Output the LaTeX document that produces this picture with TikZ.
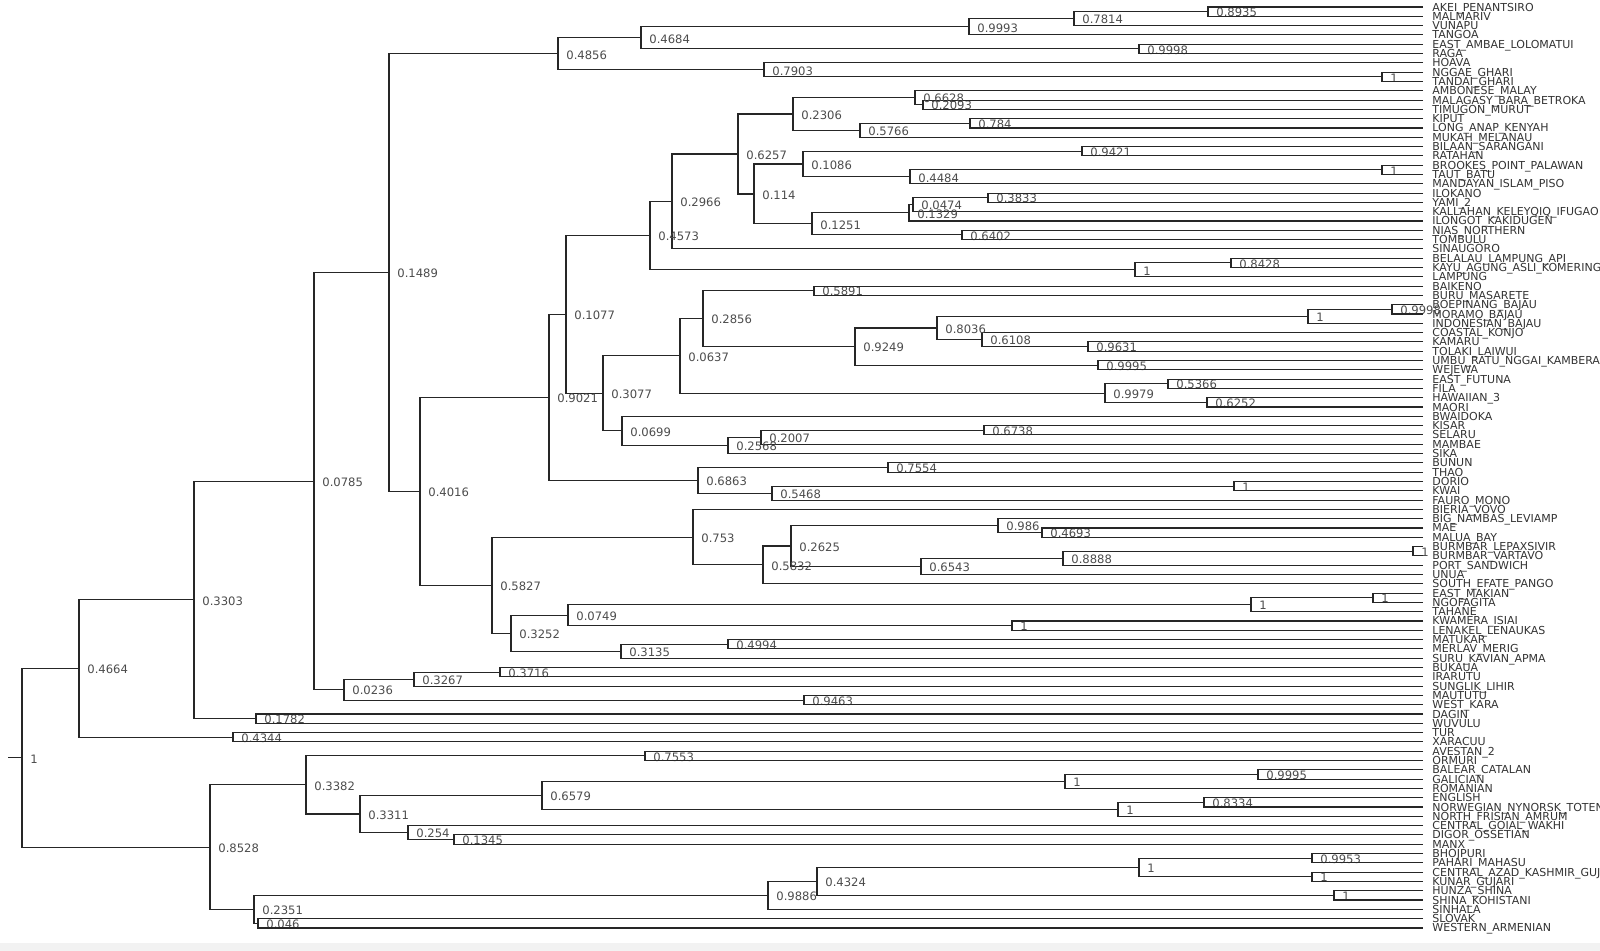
\documentclass[tikz,border=0pt]{standalone}
\usepackage{fontspec}
\setmainfont{DejaVu Sans}
\usetikzlibrary{calc}
% one bracket of the tree: name, x (px), two children, support value
\newcommand\clade[5]{%
  \path let \p1=($(#3)!.5!(#4)$) in coordinate (#1) at (#2*0.5pt,\y1);
  \node[supp] (s#1) at (#1) {#5};
  \draw[branch] (#3) -| (#1) |- (#4);
}
\begin{document}
\begin{tikzpicture}[x=0.5pt, y=-0.5pt,
    branch/.style={draw=black!85, line width=0.55pt},
    leaf/.style={anchor=base west, inner sep=0pt, xshift=4.5pt, yshift=-2pt, text=black!80, font=\fontsize{5.5}{6}\selectfont},
    supp/.style={anchor=base west, inner sep=0pt, xshift=4pt, yshift=-2.6pt, text=black!70, font=\fontsize{5.8}{6}\selectfont}
  ]
  \useasboundingbox (0,0) rectangle (1600,951);
  \fill[black!5] (0,943) rectangle (1600,951);

  % taxa
  \foreach \nm [count=\i] in {AKEI\_PENANTSIRO, MALMARIV, VUNAPU, TANGOA, EAST\_AMBAE\_LOLOMATUI,
      RAGA, HOAVA, NGGAE\_GHARI, TANDAI\_GHARI, AMBONESE\_MALAY, MALAGASY\_BARA\_BETROKA,
      TIMUGON\_MURUT, KIPUT, LONG\_ANAP\_KENYAH, MUKAH\_MELANAU, BILAAN\_SARANGANI, RATAHAN,
      BROOKES\_POINT\_PALAWAN, TAUT\_BATU, MANDAYAN\_ISLAM\_PISO, ILOKANO, YAMI\_2,
      KALLAHAN\_KELEYQIQ\_IFUGAO, ILONGOT\_KAKIDUGEN, NIAS\_NORTHERN, TOMBULU, SINAUGORO,
      BELALAU\_LAMPUNG\_API, KAYU\_AGUNG\_ASLI\_KOMERING, LAMPUNG, BAIKENO, BURU\_MASARETE,
      BOEPINANG\_BAJAU, MORAMO\_BAJAU, INDONESIAN\_BAJAU, COASTAL\_KONJO, KAMARU, TOLAKI\_LAIWUI,
      UMBU\_RATU\_NGGAI\_KAMBERA, WEJEWA, EAST\_FUTUNA, FILA, HAWAIIAN\_3, MAORI, BWAIDOKA,
      KISAR, SELARU, MAMBAE, SIKA, BUNUN, THAO, DORIO, KWAI, FAURO\_MONO, BIERIA\_VOVO,
      BIG\_NAMBAS\_LEVIAMP, MAE, MALUA\_BAY, BURMBAR\_LEPAXSIVIR, BURMBAR\_VARTAVO,
      PORT\_SANDWICH, UNUA, SOUTH\_EFATE\_PANGO, EAST\_MAKIAN, NGOFAGITA, TAHANE,
      KWAMERA\_ISIAI, LENAKEL\_LENAUKAS, MATUKAR, MERLAV\_MERIG, SURU\_KAVIAN\_APMA, BUKAUA,
      IRARUTU, SUNGLIK\_LIHIR, MAUTUTU, WEST\_KARA, DAGIN, WUVULU, TUR, XARACUU, AVESTAN\_2,
      ORMURI, BALEAR\_CATALAN, GALICIAN, ROMANIAN, ENGLISH, NORWEGIAN\_NYNORSK\_TOTEN,
      NORTH\_FRISIAN\_AMRUM, CENTRAL\_GOIAL\_WAKHI, DIGOR\_OSSETIAN, MANX, BHOJPURI,
      PAHARI\_MAHASU, CENTRAL\_AZAD\_KASHMIR\_GUJARI, KUNAR\_GUJARI, HUNZA\_SHINA,
      SHINA\_KOHISTANI, SINHALA, SLOVAK, WESTERN\_ARMENIAN}{
    \coordinate (l\i) at (1423, 7.05+9.302*\i-9.302);
    \node[leaf] (t\i) at (l\i) {\nm};
  }

  % austronesian
  \clade{c8935}{1208}{l1}{l2}{0.8935}
  \clade{c7814}{1074}{c8935}{l3}{0.7814}
  \clade{c9993}{969}{c7814}{l4}{0.9993}
  \clade{c9998}{1139}{l5}{l6}{0.9998}
  \clade{c4684}{641}{c9993}{c9998}{0.4684}
  \clade{c1a}{1382}{l8}{l9}{1}
  \clade{c7903}{764}{l7}{c1a}{0.7903}
  \clade{c4856}{558}{c4684}{c7903}{0.4856}

  \clade{c2093}{923}{l11}{l12}{0.2093}
  \clade{c6628}{915}{l10}{c2093}{0.6628}
  \clade{c784}{970}{l13}{l14}{0.784}
  \clade{c5766}{860}{c784}{l15}{0.5766}
  \clade{c2306}{793}{c6628}{c5766}{0.2306}
  \clade{c9421}{1082}{l16}{l17}{0.9421}
  \clade{c1b}{1382}{l18}{l19}{1}
  \clade{c4484}{910}{c1b}{l20}{0.4484}
  \clade{c1086}{803}{c9421}{c4484}{0.1086}
  \clade{c3833}{988}{l21}{l22}{0.3833}
  \clade{c0474}{913}{c3833}{l23}{0.0474}
  \clade{c1329}{909}{c0474}{l24}{0.1329}
  \clade{c6402}{962}{l25}{l26}{0.6402}
  \clade{c1251}{812}{c1329}{c6402}{0.1251}
  \clade{c114}{754}{c1086}{c1251}{0.114}
  \clade{c6257}{738}{c2306}{c114}{0.6257}
  \clade{c2966}{672}{c6257}{l27}{0.2966}
  \clade{c8428}{1231}{l28}{l29}{0.8428}
  \clade{c1c}{1135}{c8428}{l30}{1}
  \clade{c4573}{650}{c2966}{c1c}{0.4573}

  \clade{c5891}{814}{l31}{l32}{0.5891}
  \clade{c9998b}{1392}{l33}{l34}{0.9998}
  \clade{c1d}{1308}{c9998b}{l35}{1}
  \clade{c9631}{1088}{l37}{l38}{0.9631}
  \clade{c6108}{982}{l36}{c9631}{0.6108}
  \clade{c8036}{937}{c1d}{c6108}{0.8036}
  \clade{c9995}{1098}{l39}{l40}{0.9995}
  \clade{c9249}{855}{c8036}{c9995}{0.9249}
  \clade{c2856}{703}{c5891}{c9249}{0.2856}
  \clade{c5366}{1168}{l41}{l42}{0.5366}
  \clade{c6252}{1207}{l43}{l44}{0.6252}
  \clade{c9979}{1105}{c5366}{c6252}{0.9979}
  \clade{c0637}{680}{c2856}{c9979}{0.0637}
  \clade{c6738}{984}{l46}{l47}{0.6738}
  \clade{c2007}{761}{c6738}{l48}{0.2007}
  \clade{c2568}{728}{c2007}{l49}{0.2568}
  \clade{c0699}{622}{l45}{c2568}{0.0699}
  \clade{c3077}{603}{c0637}{c0699}{0.3077}
  \clade{c1077}{566}{c4573}{c3077}{0.1077}
  \clade{c7554}{888}{l50}{l51}{0.7554}
  \clade{c1e}{1234}{l52}{l53}{1}
  \clade{c5468}{772}{c1e}{l54}{0.5468}
  \clade{c6863}{698}{c7554}{c5468}{0.6863}
  \clade{c9021}{549}{c1077}{c6863}{0.9021}

  \clade{c4693}{1042}{l57}{l58}{0.4693}
  \clade{c986}{998}{l56}{c4693}{0.986}
  \clade{c1f}{1413}{l59}{l60}{1}
  \clade{c8888}{1063}{c1f}{l61}{0.8888}
  \clade{c6543}{921}{c8888}{l62}{0.6543}
  \clade{c2625}{791}{c986}{c6543}{0.2625}
  \clade{c5832}{763}{c2625}{l63}{0.5832}
  \clade{c753}{693}{l55}{c5832}{0.753}
  \clade{c1g}{1373}{l64}{l65}{1}
  \clade{c1h}{1251}{c1g}{l66}{1}
  \clade{c1i}{1012}{l67}{l68}{1}
  \clade{c0749}{568}{c1h}{c1i}{0.0749}
  \clade{c4994}{728}{l69}{l70}{0.4994}
  \clade{c3135}{621}{c4994}{l71}{0.3135}
  \clade{c3252}{511}{c0749}{c3135}{0.3252}
  \clade{c5827}{492}{c753}{c3252}{0.5827}
  \clade{c4016}{420}{c9021}{c5827}{0.4016}
  \clade{c1489}{389}{c4856}{c4016}{0.1489}
  \clade{c3716}{500}{l72}{l73}{0.3716}
  \clade{c3267}{414}{c3716}{l74}{0.3267}
  \clade{c9463}{804}{l75}{l76}{0.9463}
  \clade{c0236}{344}{c3267}{c9463}{0.0236}
  \clade{c0785}{314}{c1489}{c0236}{0.0785}
  \clade{c1782}{256}{l77}{l78}{0.1782}
  \clade{c3303}{194}{c0785}{c1782}{0.3303}
  \clade{c4344}{233}{l79}{l80}{0.4344}
  \clade{c4664}{79}{c3303}{c4344}{0.4664}

  % indo-european
  \clade{c7553}{645}{l81}{l82}{0.7553}
  \clade{c9995b}{1258}{l83}{l84}{0.9995}
  \clade{c1j}{1065}{c9995b}{l85}{1}
  \clade{c8334}{1204}{l86}{l87}{0.8334}
  \clade{c1k}{1118}{c8334}{l88}{1}
  \clade{c6579}{542}{c1j}{c1k}{0.6579}
  \clade{c1345}{454}{l90}{l91}{0.1345}
  \clade{c254}{408}{l89}{c1345}{0.254}
  \clade{c3311}{360}{c6579}{c254}{0.3311}
  \clade{c3382}{306}{c7553}{c3311}{0.3382}
  \clade{c9953}{1312}{l92}{l93}{0.9953}
  \clade{c1l}{1312}{l94}{l95}{1}
  \clade{c1m}{1139}{c9953}{c1l}{1}
  \clade{c1n}{1334}{l96}{l97}{1}
  \clade{c4324}{817}{c1m}{c1n}{0.4324}
  \clade{c9886}{768}{c4324}{l98}{0.9886}
  \clade{c046}{258}{l99}{l100}{0.046}
  \clade{c2351}{254}{c9886}{c046}{0.2351}
  \clade{c8528}{210}{c3382}{c2351}{0.8528}

  \clade{root}{22}{c4664}{c8528}{1}
  \path (root) ++(-14,0) coordinate (stub);
  \draw[branch] (stub) -- (root);
\end{tikzpicture}
\end{document}
